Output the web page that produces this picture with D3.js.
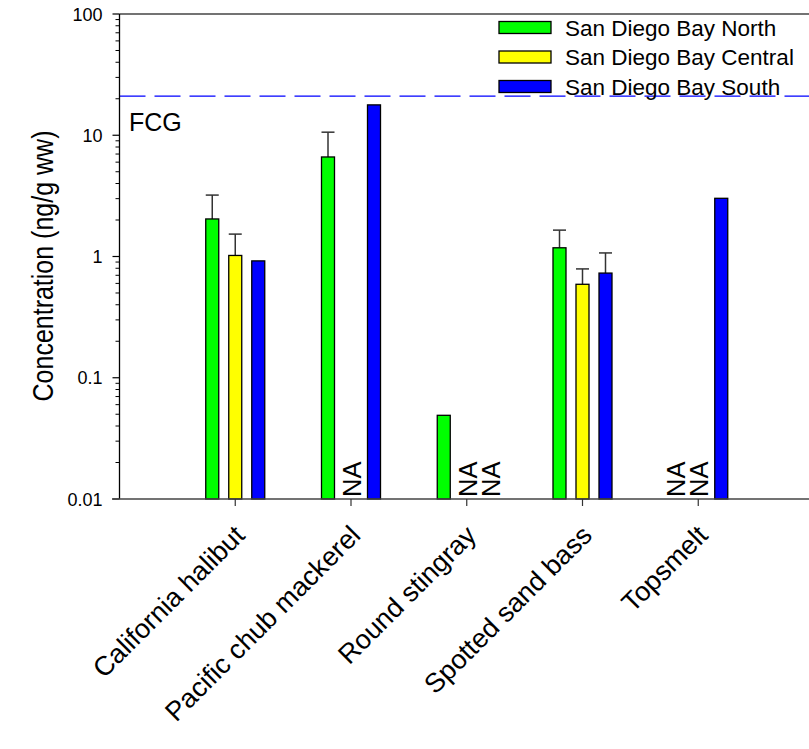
<!DOCTYPE html>
<html>
<head>
<meta charset="utf-8">
<script src="https://cdn.jsdelivr.net/npm/d3@7"></script>
<style>
  body { margin: 0; background: #fff; }
  svg { display: block; font-family: "Liberation Sans", Arial, sans-serif; }
</style>
</head>
<body>
<svg id="chart" width="809" height="749"></svg>
<script>
const categories = ["California halibut", "Pacific chub mackerel", "Round stingray", "Spotted sand bass", "Topsmelt"];
const seriesNames = ["San Diego Bay North", "San Diego Bay Central", "San Diego Bay South"];
const seriesColors = ["#00ff00", "#ffff00", "#0000ff"];
const northValues = [2.04, 6.62, 0.049, 1.18, null];
const northUpper = [3.21, 10.6, null, 1.65, null];
const centralValues = [1.02, null, null, 0.59, null];
const centralUpper = [1.53, null, null, 0.79, null];
const southValues = [0.92, 17.8, null, 0.73, 3.02];
const southUpper = [null, null, null, 1.07, null];
const yTickValues = [0.01, 0.1, 1, 10, 100];
const yTickLabels = ["0.01", "0.1", "1", "10", "100"];
const fcgValue = 21;

(function () {
const values = [northValues, centralValues, southValues];
const uppers = [northUpper, centralUpper, southUpper];

const svg = d3.select("#chart");
const pLeft = 119.5, pRight = 814, pTop = 14, pBottom = 499;

const x = d3.scalePoint().domain(categories).range([pLeft, pRight]).padding(1);
const offset = d3.scalePoint().domain(seriesNames).range([-23, 23]);
const barW = 13;
const y = d3.scaleLog().domain([0.01, 100]).range([pBottom, pTop]);

// top frame line
svg.append("line").attr("x1", pLeft).attr("x2", 809).attr("y1", pTop).attr("y2", pTop)
  .attr("stroke", "#444").attr("stroke-width", 1.5);

// FCG line
svg.append("line").attr("x1", pLeft).attr("x2", 809).attr("y1", y(fcgValue)).attr("y2", y(fcgValue))
  .attr("stroke", "#0000ff").attr("stroke-width", 1.2).attr("stroke-dasharray", "26,9");
svg.append("text").attr("x", 129).attr("y", 131).attr("font-size", 25).text("FCG");

// bars
seriesNames.forEach((s, si) => {
  categories.forEach((c, ci) => {
    const v = values[si][ci];
    const cx = x(c) + offset(s);
    if (v == null) {
      svg.append("text")
        .attr("transform", `translate(${cx + 10},${pBottom - 2}) rotate(-90)`)
        .attr("font-size", 25.5).attr("text-anchor", "start").text("NA");
      return;
    }
    const u = uppers[si][ci];
    if (u != null) {
      svg.append("line").attr("x1", cx).attr("x2", cx).attr("y1", y(v)).attr("y2", y(u))
        .attr("stroke", "#333").attr("stroke-width", 1.5);
      svg.append("line").attr("x1", cx - barW / 2).attr("x2", cx + barW / 2).attr("y1", y(u)).attr("y2", y(u))
        .attr("stroke", "#333").attr("stroke-width", 1.5);
    }
    svg.append("rect").attr("x", cx - barW / 2).attr("y", y(v))
      .attr("width", barW).attr("height", pBottom - y(v))
      .attr("fill", seriesColors[si]).attr("stroke", "#000").attr("stroke-width", 1.3);
  });
});

// y axis
const minorTicks = [];
for (let d = -2; d < 2; d++) for (let m = 2; m <= 9; m++) minorTicks.push(m * Math.pow(10, d));
const yAxisG = svg.append("g").attr("transform", `translate(${pLeft},0)`);
yAxisG.append("line").attr("x1", 0).attr("x2", 0).attr("y1", pTop).attr("y2", pBottom).attr("stroke", "#000").attr("stroke-width", 1.3);
yAxisG.selectAll(".minor").data(minorTicks).join("line")
  .attr("x1", -4).attr("x2", 0).attr("y1", d => y(d)).attr("y2", d => y(d)).attr("stroke", "#000").attr("stroke-width", 1);
yAxisG.selectAll(".major").data(yTickValues).join("line")
  .attr("x1", -7).attr("x2", 0).attr("y1", d => y(d)).attr("y2", d => y(d)).attr("stroke", "#000").attr("stroke-width", 1.2);
yAxisG.selectAll(".lbl").data(yTickValues).join("text")
  .attr("x", -17).attr("y", d => y(d) + 6.5).attr("text-anchor", "end").attr("font-size", 18)
  .text((d, i) => yTickLabels[i]);

// x axis
svg.append("line").attr("x1", 112).attr("x2", 809).attr("y1", pBottom).attr("y2", pBottom)
  .attr("stroke", "#444").attr("stroke-width", 1.5);
svg.selectAll(".xt").data(categories).join("line")
  .attr("x1", d => x(d)).attr("x2", d => x(d)).attr("y1", pBottom).attr("y2", pBottom + 7)
  .attr("stroke", "#333").attr("stroke-width", 1.2);
svg.selectAll(".xl").data(categories).join("text")
  .attr("transform", d => `translate(${x(d) + 11},${pBottom + 38}) rotate(-45)`)
  .attr("text-anchor", "end").attr("font-size", 27).text(d => d);

// y title
svg.append("text").attr("transform", `translate(53,266) scale(1.2,1) rotate(-90)`)
  .attr("text-anchor", "middle").attr("font-size", 25).text("Concentration (ng/g ww)");

// legend
const lg = svg.append("g");
seriesNames.forEach((s, i) => {
  const yy = 27.5 + i * 29.5;
  lg.append("rect").attr("x", 499).attr("y", yy - 6).attr("width", 52).attr("height", 12)
    .attr("fill", seriesColors[i]).attr("stroke", "#000").attr("stroke-width", 1.3);
  lg.append("text").attr("x", 565).attr("y", yy + 8).attr("font-size", 22.5).text(s);
});
})();
</script>
</body>
</html>
